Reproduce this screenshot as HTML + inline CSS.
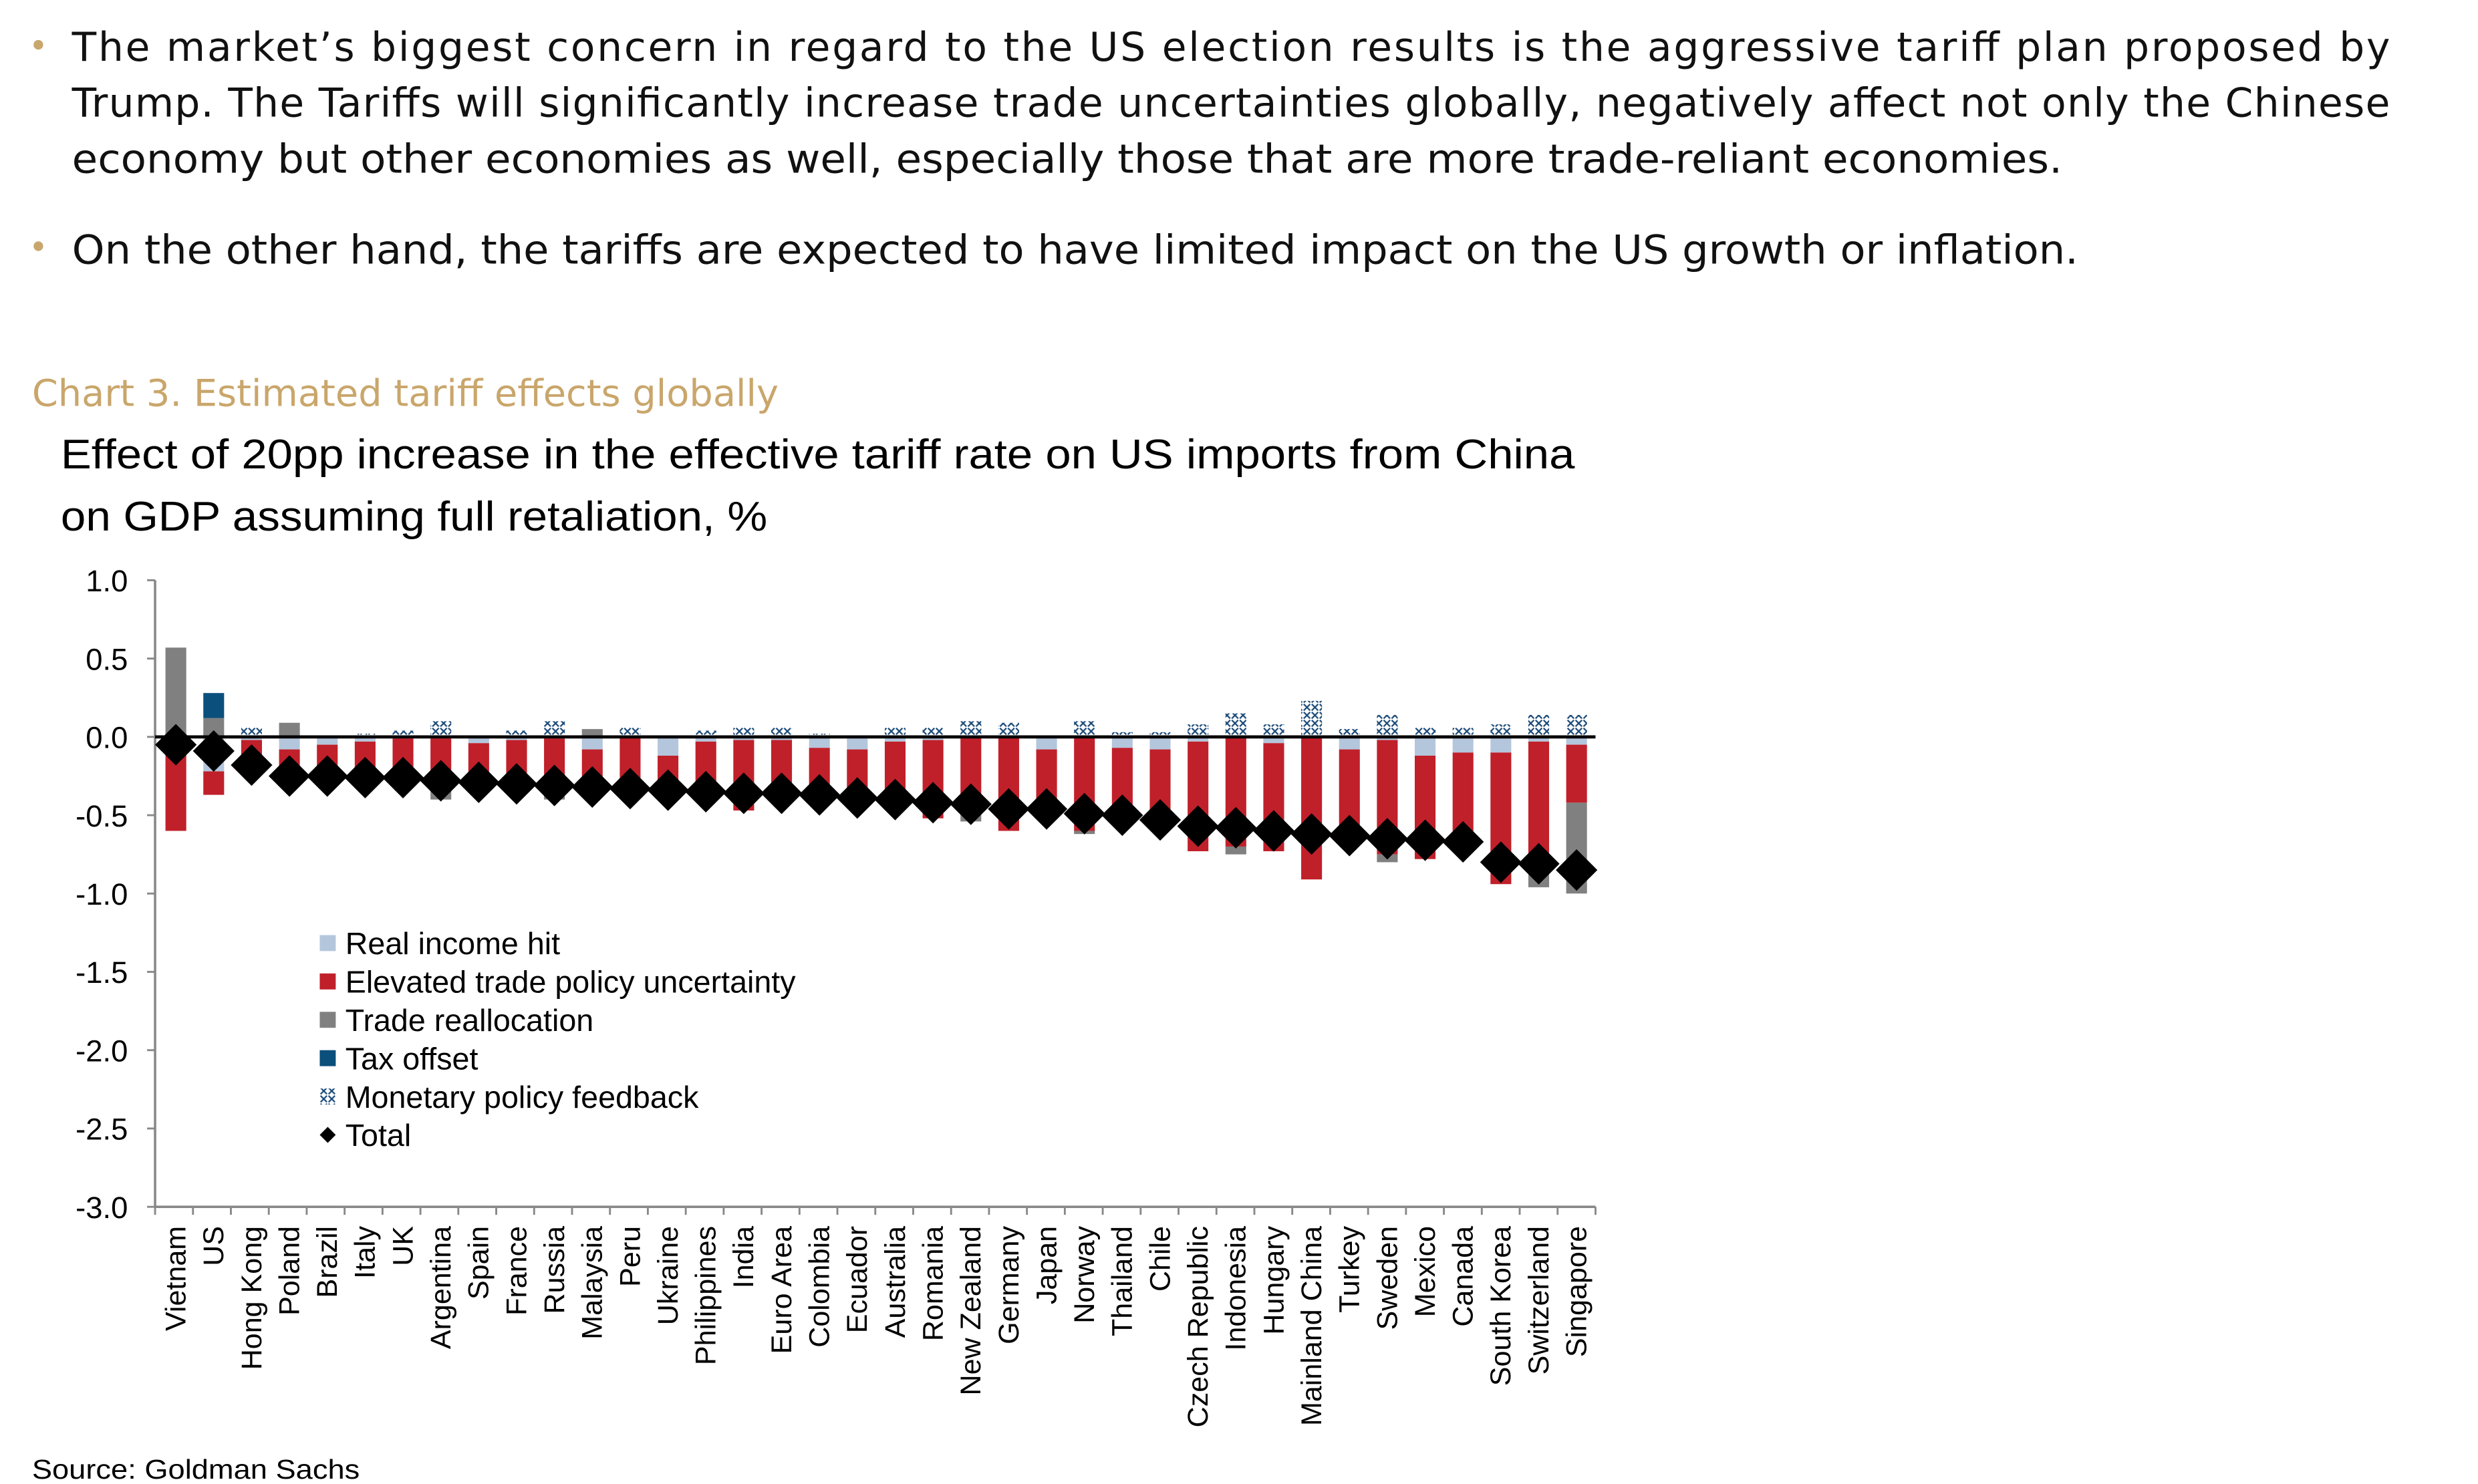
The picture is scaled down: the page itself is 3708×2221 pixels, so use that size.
<!DOCTYPE html>
<html><head><meta charset="utf-8">
<style>html,body{margin:0;padding:0;background:#fff;}svg{display:block;}</style>
</head><body>
<svg id="s" width="3708" height="2221" viewBox="0 0 1550 928.4" xmlns="http://www.w3.org/2000/svg">
<defs>
<pattern id="hatch" width="5" height="5" patternUnits="userSpaceOnUse">
<rect width="5" height="5" fill="#fff"/>
<path d="M0.5,0.5 L4.5,4.5 M4.5,0.5 L0.5,4.5" stroke="#1a4a78" stroke-width="0.9"/>
</pattern>
</defs>
<g font-family="DejaVu Sans, sans-serif" font-size="25" fill="#111">
<circle cx="24" cy="28" r="3" fill="#C9A66B"/>
<text x="45" y="38" textLength="1450" lengthAdjust="spacing">The market’s biggest concern in regard to the US election results is the aggressive tariff plan proposed by</text>
<text x="45" y="73" textLength="1450" lengthAdjust="spacing">Trump. The Tariffs will significantly increase trade uncertainties globally, negatively affect not only the Chinese</text>
<text x="45" y="108" textLength="1245" lengthAdjust="spacingAndGlyphs">economy but other economies as well, especially those that are more trade-reliant economies.</text>
<circle cx="24" cy="154" r="3" fill="#C9A66B"/>
<text x="45" y="165" textLength="1255" lengthAdjust="spacingAndGlyphs">On the other hand, the tariffs are expected to have limited impact on the US growth or inflation.</text>
<text x="20" y="254" font-size="23" fill="#C9A66B" textLength="467" lengthAdjust="spacingAndGlyphs">Chart 3. Estimated tariff effects globally</text>
</g>
<g font-family="Liberation Sans, sans-serif" fill="#000">
<text x="38" y="293" font-size="26" textLength="947" lengthAdjust="spacingAndGlyphs">Effect of 20pp increase in the effective tariff rate on US imports from China</text>
<text x="38" y="332" font-size="26" textLength="442" lengthAdjust="spacingAndGlyphs">on GDP assuming full retaliation, %</text>
<text x="20" y="925" font-size="17" textLength="205" lengthAdjust="spacingAndGlyphs">Source: Goldman Sachs</text>
</g>
<g id="chart" font-family="Liberation Sans, sans-serif"></g>
</svg>
<script>
var g=document.getElementById('chart'),NS='http://www.w3.org/2000/svg';
function el(t,a,txt){var e=document.createElementNS(NS,t);for(var k in a)e.setAttribute(k,a[k]);if(txt)e.textContent=txt;g.appendChild(e);return e;}
var Y0=461,U=98,X0=110,DX=23.68,BW=13;
function y(v){return Y0-v*U;}
// y axis
el('line',{x1:97,y1:363,x2:97,y2:755,stroke:'#888','stroke-width':1.5});
var ticks=['1.0','0.5','0.0','-0.5','-1.0','-1.5','-2.0','-2.5','-3.0'];
for(var i=0;i<9;i++){var v=1-i*0.5,yy=y(v);
el('line',{x1:92,y1:yy,x2:97,y2:yy,stroke:'#888','stroke-width':1.2});
el('text',{x:80,y:yy+7,'font-size':19,'text-anchor':'end',fill:'#000'},ticks[i]);}
// bottom axis
el('line',{x1:97,y1:755,x2:998,y2:755,stroke:'#888','stroke-width':1.5});
for(var i=0;i<=38;i++){var xx=97+i*(901/38);el('line',{x1:xx,y1:755,x2:xx,y2:760,stroke:'#888','stroke-width':1.2});}
var names=['Vietnam','US','Hong Kong','Poland','Brazil','Italy','UK','Argentina','Spain','France','Russia','Malaysia','Peru','Ukraine','Philippines','India','Euro Area','Colombia','Ecuador','Australia','Romania','New Zealand','Germany','Japan','Norway','Thailand','Chile','Czech Republic','Indonesia','Hungary','Mainland China','Turkey','Sweden','Mexico','Canada','South Korea','Switzerland','Singapore'];
// [ri, redEnd, grayNegEnd, grayPos, tax, mon, total]
var d=[[0,-0.6,0,0.57,0,0,-0.05],[-0.22,-0.37,0,0.12,0.16,0,-0.09],[-0.02,-0.15,0,0,0,0.06,-0.18],[-0.08,-0.25,0,0.09,0,0,-0.25],
[-0.05,-0.25,0,0,0,0.01,-0.25],[-0.03,-0.28,0,0,0,0.02,-0.26],[-0.01,-0.27,0,0,0,0.04,-0.26],[-0.01,-0.28,-0.4,0,0,0.1,-0.28],
[-0.04,-0.3,0,0,0,0.01,-0.29],[-0.02,-0.3,0,0,0,0.04,-0.3],[-0.01,-0.33,-0.4,0,0,0.1,-0.31],[-0.08,-0.34,0,0.05,0,0,-0.32],
[0,-0.35,0,0,0,0.06,-0.33],[-0.12,-0.35,0,0,0,0,-0.34],[-0.03,-0.38,0,0,0,0.04,-0.35],[-0.02,-0.47,0,0,0,0.06,-0.36],
[-0.02,-0.4,0,0,0,0.06,-0.36],[-0.07,-0.38,0,0,0,0.02,-0.37],[-0.08,-0.42,0,0,0,0,-0.39],[-0.03,-0.42,0,0,0,0.06,-0.4],
[-0.02,-0.52,0,0,0,0.06,-0.42],[0,-0.5,-0.54,0,0,0.1,-0.43],[0,-0.6,0,0,0,0.09,-0.46],[-0.08,-0.45,0,0,0,0,-0.46],
[0,-0.6,-0.62,0,0,0.1,-0.49],[-0.07,-0.52,0,0,0,0.03,-0.5],[-0.08,-0.55,0,0,0,0.03,-0.53],[-0.03,-0.73,0,0,0,0.08,-0.57],
[0,-0.7,-0.75,0,0,0.15,-0.58],[-0.04,-0.73,0,0,0,0.08,-0.6],[0,-0.91,0,0,0,0.23,-0.62],[-0.08,-0.68,0,0,0,0.05,-0.63],
[-0.02,-0.75,-0.8,0,0,0.14,-0.65],[-0.12,-0.78,0,0,0,0.06,-0.66],[-0.1,-0.66,0,0,0,0.06,-0.67],[-0.1,-0.94,0,0,0,0.08,-0.8],
[-0.03,-0.88,-0.96,0,0,0.14,-0.81],[-0.05,-0.42,-1.0,0,0,0.14,-0.85]];
function bar(x,a,b,f){var t=Math.max(a,b),bt=Math.min(a,b);if(t-bt<=0)return;el('rect',{x:x-BW/2,y:y(t),width:BW,height:(t-bt)*U,fill:f});}
for(var i=0;i<38;i++){var c=X0+i*DX,r=d[i];
bar(c,0,r[0],'#B4C6DC');bar(c,r[0],r[1],'#C0202A');if(r[2])bar(c,r[1],r[2],'#808080');
bar(c,0,r[3],'#808080');bar(c,r[3],r[3]+r[4],'#0B4F7C');bar(c,r[3]+r[4],r[3]+r[4]+r[5],'url(#hatch)');}
el('line',{x1:97,y1:Y0,x2:998,y2:Y0,stroke:'#000','stroke-width':2});
for(var i=0;i<38;i++){var c=X0+i*DX,yy=y(d[i][6]);
el('polygon',{points:(c-13)+','+yy+' '+c+','+(yy-13)+' '+(c+13)+','+yy+' '+c+','+(yy+13),fill:'#000'});
el('text',{x:0,y:0,'font-size':18,'text-anchor':'end',fill:'#000',transform:'translate('+(c+6)+',767) rotate(-90)'},names[i]);}
// legend
var L=[['Real income hit','#B4C6DC'],['Elevated trade policy uncertainty','#C0202A'],['Trade reallocation','#808080'],['Tax offset','#0B4F7C'],['Monetary policy feedback','url(#hatch)'],['Total','d']];
for(var i=0;i<6;i++){var yy=590+i*24;
if(L[i][1]=='d')el('polygon',{points:'200,'+yy+' 205,'+(yy-5)+' 210,'+yy+' 205,'+(yy+5),fill:'#000'});
else el('rect',{x:200,y:yy-5,width:10,height:10,fill:L[i][1]});
el('text',{x:216,y:yy+7,'font-size':19.5,fill:'#000'},L[i][0]);}
</script>
</body></html>
